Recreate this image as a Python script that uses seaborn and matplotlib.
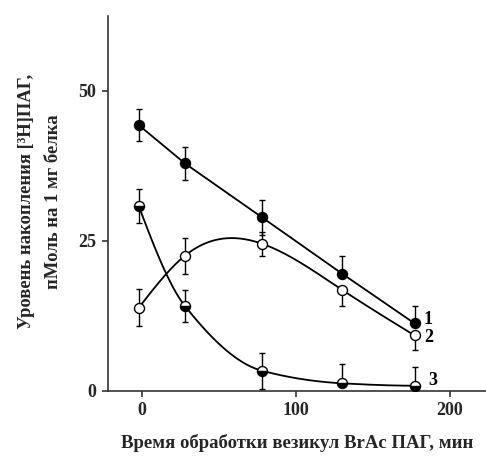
import numpy as np
import pandas as pd
import matplotlib
matplotlib.use("Agg")
import matplotlib.pyplot as plt
import seaborn as sns

# Время обработки (мин) и уровни накопления для трёх серий
time_min = [-2, 28, 78, 130, 177]
series1 = [44.3, 37.9, 28.9, 19.5, 11.2]
series2 = [13.8, 22.5, 24.5, 16.8, 9.2]
series3 = [30.8, 14.1, 3.3, 1.2, 0.8]

# Погрешности (нижняя, верхняя)
err1_lo = [2.6, 2.8, 2.9, 0.0, 0.0]
err1_hi = [2.6, 2.8, 2.9, 2.9, 2.9]
err2_lo = [3.1, 3.0, 2.0, 2.7, 2.5]
err2_hi = [3.1, 3.0, 2.0, 0.0, 0.0]
err3_lo = [2.9, 2.7, 3.0, 0.0, 0.0]
err3_hi = [2.9, 2.7, 3.0, 3.3, 3.2]

curve_labels = ["1", "2", "3"]
x_ticks = [0, 100, 200]
y_ticks = [0, 25, 50]


def natural_spline(x, y, xs):
    x = np.asarray(x, float); y = np.asarray(y, float)
    n = len(x); h = np.diff(x)
    A = np.zeros((n, n)); r = np.zeros(n)
    A[0, 0] = A[-1, -1] = 1.0
    for i in range(1, n - 1):
        A[i, i - 1] = h[i - 1]
        A[i, i] = 2 * (h[i - 1] + h[i])
        A[i, i + 1] = h[i]
        r[i] = 3 * ((y[i + 1] - y[i]) / h[i] - (y[i] - y[i - 1]) / h[i - 1])
    c = np.linalg.solve(A, r)
    b = np.diff(y) / h - h * (2 * c[:-1] + c[1:]) / 3
    d = np.diff(c) / (3 * h)
    idx = np.clip(np.searchsorted(x, xs) - 1, 0, n - 2)
    dx = xs - x[idx]
    return y[idx] + b[idx] * dx + c[idx] * dx ** 2 + d[idx] * dx ** 3


def pchip(x, y, xs):
    x = np.asarray(x, float); y = np.asarray(y, float)
    n = len(x); h = np.diff(x); delta = np.diff(y) / h
    m = np.zeros(n)
    for k in range(1, n - 1):
        if delta[k - 1] * delta[k] > 0:
            w1 = 2 * h[k] + h[k - 1]
            w2 = h[k] + 2 * h[k - 1]
            m[k] = (w1 + w2) / (w1 / delta[k - 1] + w2 / delta[k])
    m[0] = ((2 * h[0] + h[1]) * delta[0] - h[0] * delta[1]) / (h[0] + h[1])
    if np.sign(m[0]) != np.sign(delta[0]):
        m[0] = 0
    m[-1] = ((2 * h[-1] + h[-2]) * delta[-1] - h[-1] * delta[-2]) / (h[-1] + h[-2])
    if np.sign(m[-1]) != np.sign(delta[-1]):
        m[-1] = 0
    idx = np.clip(np.searchsorted(x, xs) - 1, 0, n - 2)
    t = (xs - x[idx]) / h[idx]
    h00 = 2 * t ** 3 - 3 * t ** 2 + 1
    h10 = t ** 3 - 2 * t ** 2 + t
    h01 = -2 * t ** 3 + 3 * t ** 2
    h11 = t ** 3 - t ** 2
    return (h00 * y[idx] + h10 * h[idx] * m[idx]
            + h01 * y[idx + 1] + h11 * h[idx] * m[idx + 1])


sns.set_theme(style="ticks")
plt.rcParams["font.family"] = ["Liberation Serif", "DejaVu Serif"]
plt.rcParams["font.weight"] = "bold"

fig = plt.figure(figsize=(4.86, 4.57), dpi=100)
ax = fig.add_axes([0.222, 0.1455, 0.778, 0.8195])

xs = np.linspace(time_min[0], time_min[-1], 300)
lines = pd.concat([
    pd.DataFrame({"t": time_min, "v": series1, "s": "1"}),
    pd.DataFrame({"t": xs, "v": natural_spline(time_min, series2, xs), "s": "2"}),
    pd.DataFrame({"t": xs, "v": pchip(time_min, series3, xs), "s": "3"}),
])
sns.lineplot(data=lines, x="t", y="v", units="s", estimator=None,
             color="black", lw=1.3, ax=ax, sort=False, zorder=2)

err_kw = dict(fmt="none", ecolor="black", elinewidth=1.0, capsize=2.3,
              capthick=1.0, zorder=3)
ax.errorbar(time_min, series1, yerr=[err1_lo, err1_hi], **err_kw)
ax.errorbar(time_min, series2, yerr=[err2_lo, err2_hi], **err_kw)
ax.errorbar(time_min, series3, yerr=[err3_lo, err3_hi], **err_kw)

mk = dict(ls="none", marker="o", ms=7.2, mec="black", mew=1.0, zorder=4)
ax.plot(time_min, series1, mfc="black", **mk)
ax.plot(time_min, series2, mfc="white", **mk)
ax.plot(time_min, series3, mfc="black", fillstyle="bottom",
        markerfacecoloralt="white", **mk)

label_pos = [(183.0, series1[-1] + 0.6), (183.0, series2[-1] - 0.4),
             (186.0, series3[-1] + 0.8)]
for txt, (lx, ly) in zip(curve_labels, label_pos):
    ax.text(lx, ly, txt, ha="left", va="center", fontsize=13,
            fontweight="bold", color="black")

ax.set_xlim(-22, 223.4)
ax.set_ylim(0, 62.5)
ax.set_xticks(x_ticks)
ax.set_yticks(y_ticks)
sns.despine(ax=ax)
for sp in ("left", "bottom"):
    ax.spines[sp].set_linewidth(1.2)
    ax.spines[sp].set_color("#333333")
ax.tick_params(direction="out", length=4.3, width=1.2, color="#333333",
               labelsize=13, pad=4)
for lab in ax.get_xticklabels() + ax.get_yticklabels():
    lab.set_fontweight("bold")

ax.set_xlabel("Время обработки везикул BrAc ПАГ, мин", fontsize=13.5,
              fontweight="bold", va="center")
ax.xaxis.set_label_coords(0.5, -0.141)
ax.set_ylabel("Уровень накопления [³H]ПАГ,\nпМоль на 1 мг белка",
              fontsize=13.4, fontweight="bold", linespacing=1.75)
ax.yaxis.set_label_coords(-0.121, 0.505)

fig.savefig("out.png", dpi=100, facecolor="white")
